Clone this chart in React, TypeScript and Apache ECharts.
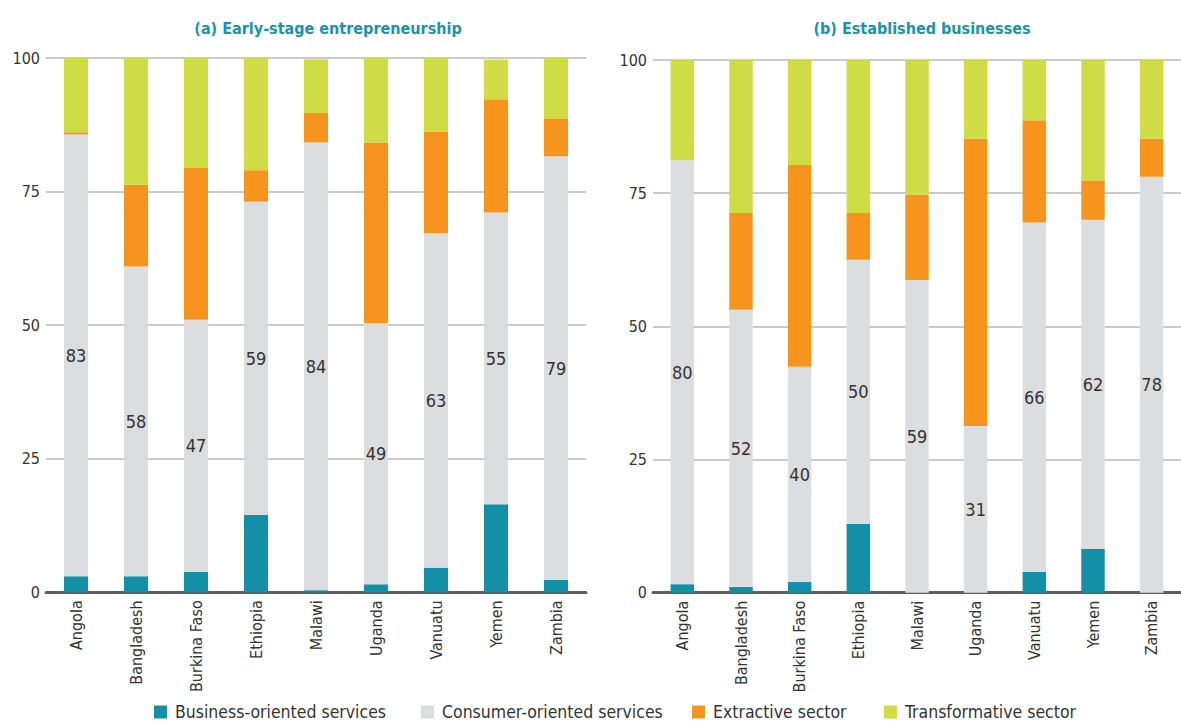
import React, { useEffect, useRef } from "react";
import * as echarts from "echarts";

const categories = ["Angola", "Bangladesh", "Burkina Faso", "Ethiopia", "Malawi", "Uganda", "Vanuatu", "Yemen", "Zambia"];
const yTicks = [0, 25, 50, 75, 100];
const seriesNames = ["Business-oriented services", "Consumer-oriented services", "Extractive sector", "Transformative sector"];
const colors = ["#1390a8", "#dcdddf", "#f7941e", "#cfdc45"];

const earlyBusiness = [3.0, 3.0, 3.8, 14.5, 0.4, 1.5, 4.6, 16.5, 2.3];
const earlyConsumer = [82.7, 58.0, 47.2, 58.6, 83.8, 48.9, 62.6, 54.6, 79.3];
const earlyExtractive = [0.4, 15.3, 28.4, 5.9, 5.5, 33.8, 19.0, 21.2, 7.1];
const earlyTransformative = [13.9, 23.7, 20.6, 21.0, 10.0, 15.8, 13.8, 7.4, 11.3];

const estBusiness = [1.6, 1.1, 2.0, 12.9, 0, 0, 3.9, 8.2, 0];
const estConsumer = [79.6, 52.0, 40.4, 49.6, 58.7, 31.3, 65.6, 61.8, 78.1];
const estExtractive = [0, 18.2, 37.9, 8.8, 16.0, 53.9, 19.2, 7.4, 7.1];
const estTransformative = [18.8, 28.7, 19.7, 28.7, 25.3, 14.8, 11.3, 22.6, 14.8];

const titleA = "(a) Early-stage entrepreneurship";
const titleB = "(b) Established businesses";

const FONT = "'Liberation Sans Narrow', 'DejaVu Sans Condensed', 'Roboto', sans-serif";

export default function App() {
  const ref = useRef<HTMLDivElement>(null);
  useEffect(() => {
    if (!ref.current) return;
    const chart = echarts.init(ref.current, undefined, { renderer: "svg" });
    const panels = [
      [earlyBusiness, earlyConsumer, earlyExtractive, earlyTransformative],
      [estBusiness, estConsumer, estExtractive, estTransformative],
    ];
    const series: any[] = [];
    panels.forEach((p, pi) => {
      p.forEach((vals, si) => {
        series.push({
          type: "bar",
          name: seriesNames[si],
          stack: "s" + pi,
          xAxisIndex: pi,
          yAxisIndex: pi,
          barWidth: "40%",
          data: vals,
          itemStyle: { color: colors[si] },
          label:
            si === 1
              ? {
                  show: true,
                  position: "inside",
                  formatter: (d: any) => String(Math.round(d.value)),
                  fontSize: 18,
                  color: "#333",
                  fontFamily: FONT,
                }
              : { show: false },
        });
      });
    });
    const xAxisCommon = {
      type: "category",
      data: categories,
      axisLine: { show: true, lineStyle: { color: "#5e5e5e", width: 3 } },
      axisTick: { show: false },
      axisLabel: { rotate: 90, fontSize: 16, color: "#333", fontFamily: FONT, margin: 8, interval: 0 },
    };
    const yAxisCommon = {
      type: "value",
      min: 0,
      max: 100,
      interval: 25,
      axisLine: { show: false },
      axisTick: { show: false },
      axisLabel: { fontSize: 16, color: "#333", fontFamily: FONT, margin: 6, formatter: (v: number) => (yTicks.includes(v) ? String(v) : "") },
      splitLine: { show: true, lineStyle: { color: "#b8b8b8", width: 1.5 } },
    };
    const legendLefts = [154, 421, 692, 884];
    chart.setOption({
      animation: false,
      title: [
        { text: titleA, left: 323, top: 15, textAlign: "center", textStyle: { fontSize: 16, fontWeight: "bold", color: "#1a93ad", fontFamily: FONT } },
        { text: titleB, left: 917, top: 15, textAlign: "center", textStyle: { fontSize: 16, fontWeight: "bold", color: "#1a93ad", fontFamily: FONT } },
      ],
      legend: seriesNames.map((n, i) => ({
        data: [n],
        left: legendLefts[i],
        top: 702,
        padding: 0,
        itemWidth: 13,
        itemHeight: 13,
        selectedMode: false,
        icon: "rect",
        textStyle: { fontSize: 17.5, lineHeight: 20, color: "#333", fontFamily: FONT, padding: [0, 0, 0, 3] },
      })),
      grid: [
        { left: 46, width: 540, top: 58, height: 534.3, containLabel: false },
        { left: 653, width: 537, top: 60, height: 532.7, containLabel: false },
      ],
      xAxis: [
        { ...xAxisCommon, gridIndex: 0 },
        { ...xAxisCommon, gridIndex: 1 },
      ],
      yAxis: [
        { ...yAxisCommon, gridIndex: 0 },
        { ...yAxisCommon, gridIndex: 1 },
      ],
      series,
    });
    return () => chart.dispose();
  }, []);
  return <div ref={ref} style={{ position: "absolute", left: 0, top: 0, width: 1181, height: 722 }} />;
}
